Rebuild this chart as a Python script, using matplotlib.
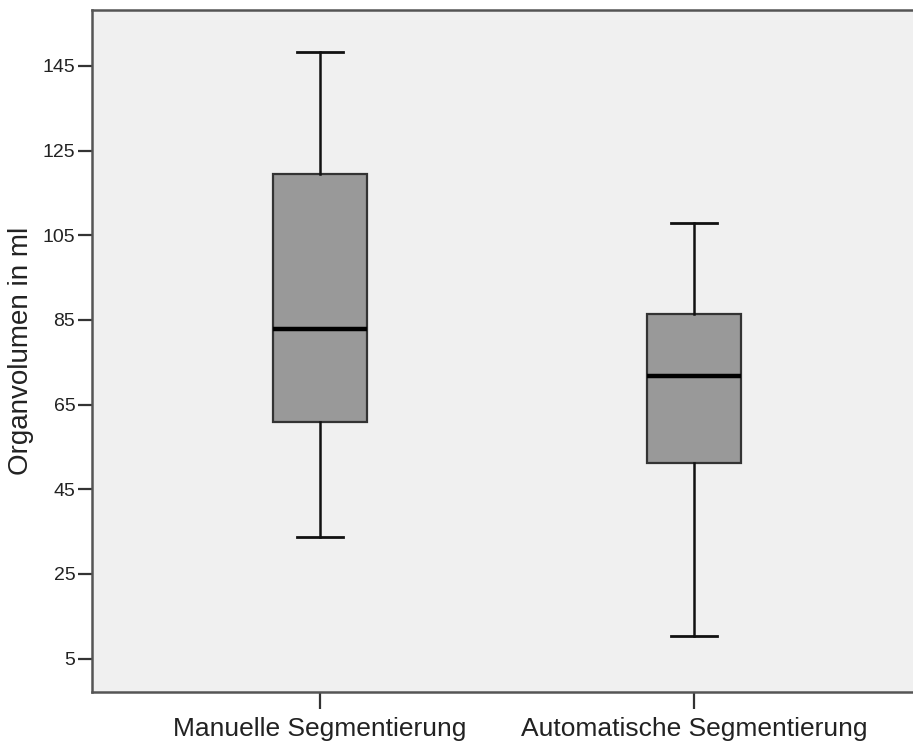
import matplotlib
matplotlib.use("Agg")
import matplotlib.pyplot as plt

# values (ml)
labels = ["Manuelle Segmentierung", "Automatische Segmentierung"]
whisker_low = [33.8, 10.4]
q1 = [61.0, 51.2]
median = [82.8, 71.7]
q3 = [119.4, 86.5]
whisker_high = [148.2, 107.9]
yticks = [5, 25, 45, 65, 85, 105, 125, 145]

plt.rcParams['font.family'] = ['Liberation Sans', 'DejaVu Sans']

fig = plt.figure(figsize=(9.13, 7.45), dpi=100)
ax = fig.add_axes([0.1008, 0.0711, 0.909, 0.9154])
ax.set_facecolor("#f0f0f0")

stats = []
for i in range(len(labels)):
    stats.append(dict(whislo=whisker_low[i], q1=q1[i], med=median[i],
                      q3=q3[i], whishi=whisker_high[i], fliers=[], label=labels[i]))

ax.bxp(stats, positions=[1, 2], widths=0.25, patch_artist=True, showfliers=False,
       boxprops=dict(facecolor="#999999", edgecolor="#333333", linewidth=1.6),
       medianprops=dict(color="black", linewidth=3.2),
       whiskerprops=dict(color="#111111", linewidth=1.8),
       capprops=dict(color="#111111", linewidth=2.0),
       capwidths=0.123)

ax.set_xlim(0.39, 2.61)
ax.set_ylim(-2.9, 158.2)
ax.set_yticks(yticks)
ax.set_yticklabels([str(v) for v in yticks], fontsize=14, color="#222222")
ax.set_xticks([1, 2])
ax.set_xticklabels(labels, fontsize=19, color="#222222")
ax.tick_params(axis="y", length=10, width=1.6, color="#333333", pad=2)
ax.tick_params(axis="x", length=12, width=1.6, color="#333333", pad=6)
ax.set_ylabel("Organvolumen in ml", fontsize=20, color="#222222", labelpad=6)

for s in ax.spines.values():
    s.set_color("#555555")
    s.set_linewidth(1.8)

fig.savefig("out.png", dpi=100)
